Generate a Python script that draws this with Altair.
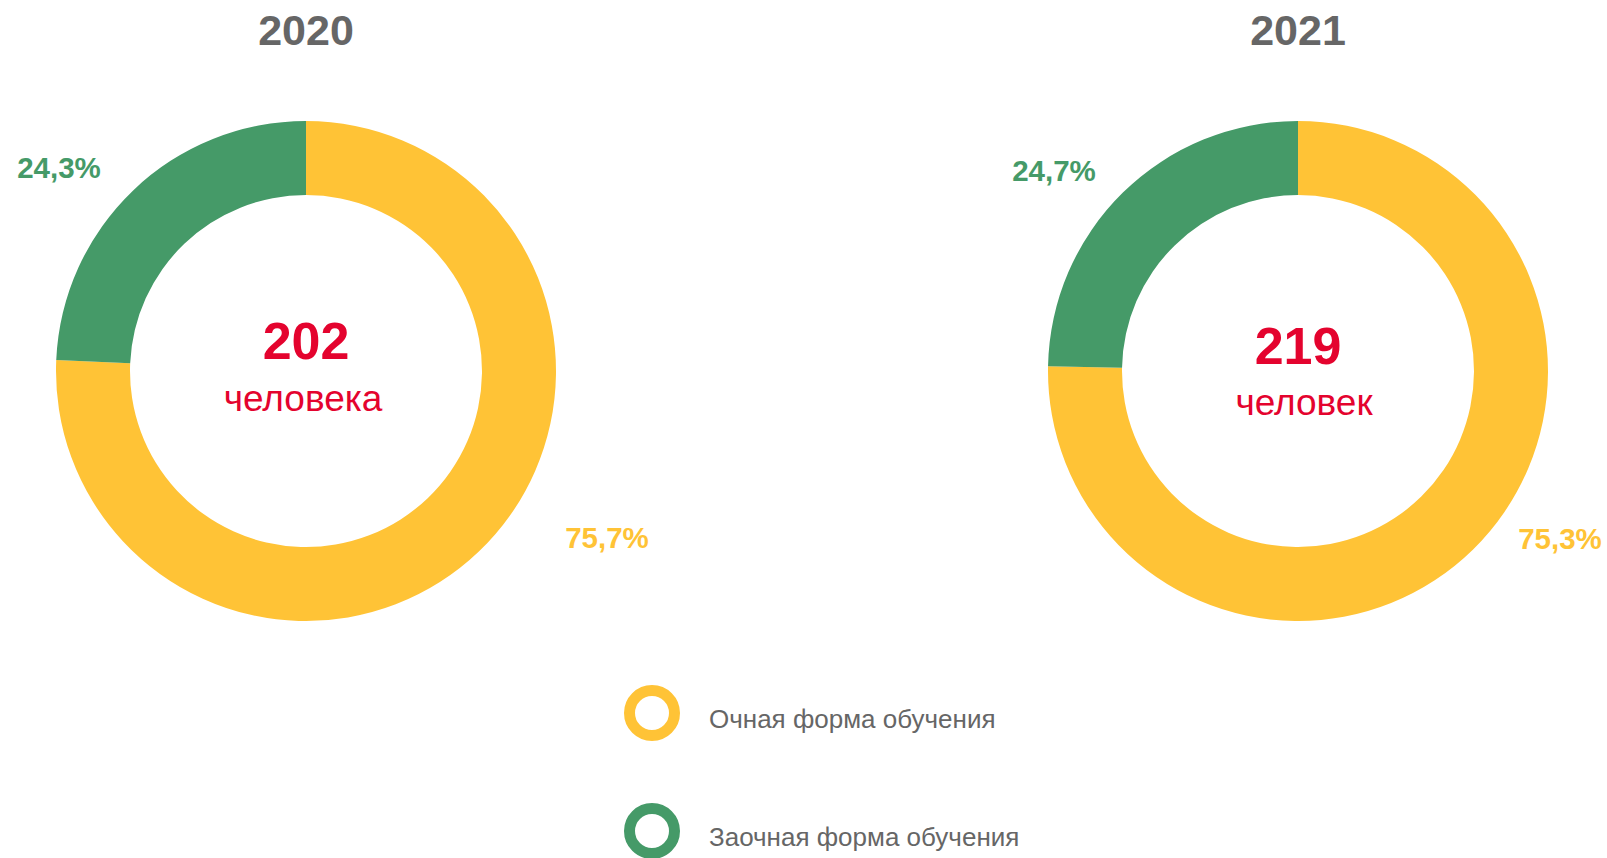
import math
import altair as alt
import pandas as pd

# ---- data ----
years = ["2020", "2021"]
totals = [202, 219]
units = ["человека", "человек"]
categories = ["Очная форма обучения", "Заочная форма обучения"]
share_fulltime = [75.7, 75.3]
share_parttime = [24.3, 24.7]

# ---- styles ----
COLORS = ["#FFC336", "#459A68"]
RED = "#E4032E"
GRAY = "#666666"
FONT = "Liberation Sans"
W, H = 1607, 858
CENTER_X = [306, 1298]
CENTER_Y = 371
# label placement relative to each ring centre (dx, dy)
LABEL_OFFSETS = {
    ("2020", categories[1]): (-247, -193),
    ("2020", categories[0]): (301, 177),
    ("2021", categories[1]): (-244, -190),
    ("2021", categories[0]): (262, 178),
}
# centre text placement per year: (number baseline, unit baseline, unit dx)
CENTER_TEXT = {"2020": (359, 411, -3), "2021": (364, 415, 6)}

rows = []
for i, yr in enumerate(years):
    start = 0.0
    for cat, vals in zip(categories, [share_fulltime, share_parttime]):
        v = vals[i]
        rows.append({
            "year": yr, "category": cat, "value": v,
            "start": start, "end": start + v,
            "label": f"{v:.1f}%".replace(".", ","),
        })
        start += v
arcs_df = pd.DataFrame(rows)
tot_df = pd.DataFrame({"year": years, "total": totals, "unit": units})
leg_df = pd.DataFrame({"category": categories})

x_enc = alt.X("year:N", scale=alt.Scale(type="point", domain=years, range=CENTER_X, padding=0), axis=None)
color_scale = alt.Scale(domain=categories, range=COLORS)

arcs = alt.Chart(arcs_df).mark_arc(innerRadius=176, outerRadius=250).encode(
    x=x_enc,
    y=alt.value(CENTER_Y),
    theta=alt.Theta("start:Q", scale=alt.Scale(domain=[0, 100], range=[0, 2 * math.pi])),
    theta2="end:Q",
    color=alt.Color("category:N", scale=color_scale, legend=None),
)

titles = alt.Chart(tot_df).mark_text(
    font=FONT, fontSize=43, fontWeight="bold", color=GRAY, baseline="alphabetic", align="center"
).encode(x=x_enc, y=alt.value(45), text="year:N")

center_layers = []
for yr, (nb, wb, wdx) in CENTER_TEXT.items():
    base = alt.Chart(tot_df).transform_filter(alt.datum.year == yr)
    center_layers.append(base.mark_text(
        font=FONT, fontSize=52, fontWeight="bold", color=RED, baseline="alphabetic", align="center"
    ).encode(x=x_enc, y=alt.value(nb), text="total:Q"))
    center_layers.append(base.mark_text(
        font=FONT, fontSize=37, color=RED, baseline="alphabetic", align="center", dx=wdx
    ).encode(x=x_enc, y=alt.value(wb), text="unit:N"))

label_layers = []
for (yr, cat), (dx, dy) in LABEL_OFFSETS.items():
    col = COLORS[categories.index(cat)]
    label_layers.append(
        alt.Chart(arcs_df).transform_filter(
            (alt.datum.year == yr) & (alt.datum.category == cat)
        ).mark_text(
            font=FONT, fontSize=29.5, fontWeight="bold", color=col,
            baseline="alphabetic", align="center", dx=dx, dy=dy
        ).encode(x=x_enc, y=alt.value(CENTER_Y), text="label:N")
    )

y_leg = alt.Y("category:N", scale=alt.Scale(type="point", domain=categories, range=[713, 831], padding=0), axis=None)
leg_sym = alt.Chart(leg_df).mark_point(
    shape="circle", filled=False, strokeWidth=11, size=2025, opacity=1
).encode(
    x=alt.value(652), y=y_leg,
    color=alt.Color("category:N", scale=color_scale, legend=None),
)
leg_txt = alt.Chart(leg_df).mark_text(
    font=FONT, fontSize=26, color=GRAY, align="left", baseline="middle", dy=7
).encode(x=alt.value(709), y=y_leg, text="category:N")

chart = alt.layer(arcs, titles, *center_layers, *label_layers, leg_sym, leg_txt).properties(
    width=W, height=H, padding=0, autosize=alt.AutoSizeParams(type="none"), background="white"
).configure_view(stroke=None)

chart.save("out.html", embed_options={"renderer": "svg", "actions": False})
